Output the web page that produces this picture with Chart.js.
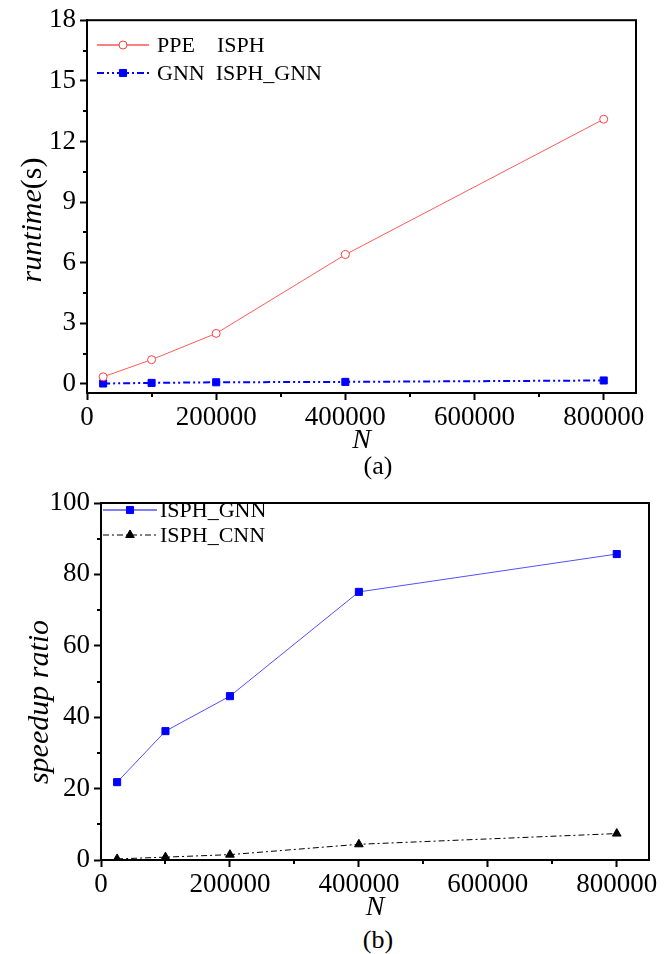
<!DOCTYPE html>
<html>
<head>
<meta charset="utf-8">
<script src="https://cdn.jsdelivr.net/npm/chart.js@4.4.0/dist/chart.umd.min.js"></script>
<style>
body { margin: 0; background: #fff; }
#page { position: relative; width: 666px; height: 954px; font-family: 'Liberation Serif', 'Times New Roman', serif; }
.box { position: absolute; left: 0; width: 666px; }
.cap { position: absolute; width: 100px; text-align: center; font-size: 26px; line-height: 30px; color: #000; }
</style>
</head>
<body>
<div id="page">
  <div class="box" style="top:0;height:457px"><canvas id="runtimeChart"></canvas></div>
  <div class="cap" style="left:328px;top:451px">(a)</div>
  <div class="box" style="top:480px;height:444px"><canvas id="speedupChart"></canvas></div>
  <div class="cap" style="left:328px;top:925px">(b)</div>
</div>
<script>
// particle counts
const N = [25000, 100000, 200000, 400000, 800000];

// (a) runtime in seconds
const runtimePPE = [0.35, 1.2, 2.5, 6.4, 13.1];
const runtimeGNN = [0.02, 0.05, 0.08, 0.1, 0.17];

// (b) speedup ratio
const speedupGNN = [21.8, 36.1, 45.9, 75.1, 85.7];
const speedupCNN = [0.3, 0.8, 1.5, 4.4, 7.4];

const xTicks = [0, 200000, 400000, 600000, 800000];
const xMinor = [100000, 300000, 500000, 700000];
const runtimeTicks = [0, 3, 6, 9, 12, 15, 18];
const runtimeMinor = [1.5, 4.5, 7.5, 10.5, 13.5, 16.5];
const speedupTicks = [0, 20, 40, 60, 80, 100];
const speedupMinor = [10, 30, 50, 70, 90];

Chart.defaults.font.family = "'Liberation Serif', 'Times New Roman', serif";
Chart.defaults.color = '#000';

const toXY = (xs, ys) => xs.map((x, i) => ({ x: x, y: ys[i] }));

// frame, minor ticks, y title with mixed style, legend with line samples
const figureDeco = {
  id: 'figureDeco',
  afterDraw(chart, args, opts) {
    const ctx = chart.ctx, a = chart.chartArea;
    const xs = chart.scales.x, ys = chart.scales.y;
    ctx.save();
    ctx.strokeStyle = '#000';
    ctx.lineWidth = 2;
    ctx.strokeRect(a.left, a.top, a.right - a.left, a.bottom - a.top);
    ctx.beginPath();
    opts.xMinor.forEach(v => {
      const px = Math.round(xs.getPixelForValue(v));
      ctx.moveTo(px, a.bottom); ctx.lineTo(px, a.bottom + 4);
    });
    opts.yMinor.forEach(v => {
      const py = Math.round(ys.getPixelForValue(v));
      ctx.moveTo(a.left, py); ctx.lineTo(a.left - 4, py);
    });
    ctx.stroke();

    // y axis title
    ctx.save();
    ctx.translate(opts.title.x, opts.title.y);
    ctx.rotate(-Math.PI / 2);
    ctx.fillStyle = '#000';
    ctx.textBaseline = 'middle';
    const fontOf = p => (p.italic ? 'italic ' : '') + '30px ' + Chart.defaults.font.family;
    let total = 0;
    opts.title.parts.forEach(p => { ctx.font = fontOf(p); total += ctx.measureText(p.text).width; });
    let tx = -total / 2;
    opts.title.parts.forEach(p => {
      ctx.font = fontOf(p);
      ctx.fillText(p.text, tx, 0);
      tx += ctx.measureText(p.text).width;
    });
    ctx.restore();

    // legend
    const lg = opts.legend;
    chart.data.datasets.forEach((ds, i) => {
      const ly = lg.y + i * lg.gap;
      ctx.strokeStyle = ds.legendColor || ds.borderColor;
      ctx.lineWidth = ds.borderWidth;
      ctx.setLineDash(ds.borderDash || []);
      ctx.beginPath();
      ctx.moveTo(lg.x0, ly); ctx.lineTo(lg.x1, ly);
      ctx.stroke();
      ctx.setLineDash([]);
      ctx.fillStyle = ds.pointBackgroundColor;
      ctx.strokeStyle = ds.pointBorderColor;
      ctx.lineWidth = 1;
      Chart.helpers.drawPoint(ctx, { pointStyle: ds.pointStyle, radius: ds.pointRadius, borderWidth: 1, rotation: 0 }, (lg.x0 + lg.x1) / 2, ly);
      ctx.fillStyle = '#000';
      ctx.font = lg.size + 'px ' + Chart.defaults.font.family;
      ctx.textBaseline = 'middle';
      ctx.fillText(ds.label, lg.tx, ly + 1);
    });
    ctx.restore();
  }
};

function axes(yMin, yMax, yTicks, yWidth) {
  const grid = { drawOnChartArea: false, drawTicks: true, tickLength: 7, tickColor: '#000', tickWidth: 2 };
  const border = { display: true, color: '#000', width: 2 };
  return {
    x: {
      type: 'linear', min: 0, max: 850000,
      grid: grid, border: border,
      afterBuildTicks: s => { s.ticks = xTicks.map(v => ({ value: v })); },
      afterFit: s => { s.height = 64; },
      ticks: { font: { size: 27 }, padding: 2, maxRotation: 0, callback: v => String(v) },
      title: { display: true, text: 'N', font: { size: 28, style: 'italic' }, padding: { top: 0, bottom: 0 } }
    },
    y: {
      type: 'linear', min: yMin, max: yMax,
      grid: grid, border: border,
      afterBuildTicks: s => { s.ticks = yTicks.map(v => ({ value: v })); },
      afterFit: s => { s.width = yWidth; },
      ticks: { font: { size: 27 }, padding: 4, callback: v => String(v) }
    }
  };
}

new Chart(document.getElementById('runtimeChart'), {
  type: 'line',
  data: {
    datasets: [{
      label: 'PPE    ISPH',
      data: toXY(N, runtimePPE),
      borderColor: '#ff5a5a', legendColor: '#ff0000', borderWidth: 1,
      pointStyle: 'circle', pointRadius: 4,
      pointBackgroundColor: '#fff', pointBorderColor: '#ff4040', pointBorderWidth: 1
    }, {
      label: 'GNN  ISPH_GNN',
      data: toXY(N, runtimeGNN),
      borderColor: '#0000ff', borderWidth: 2, borderDash: [7, 3, 2, 3, 2, 3],
      pointStyle: 'rect', pointRadius: 5,
      pointBackgroundColor: '#0000ff', pointBorderColor: '#0000ff', pointBorderWidth: 1
    }]
  },
  options: {
    responsive: true, maintainAspectRatio: false, animation: false,
    layout: { padding: { left: 0, top: 20, right: 30, bottom: 0 } },
    plugins: {
      legend: { display: false }, tooltip: { enabled: false },
      figureDeco: {
        xMinor: xMinor, yMinor: runtimeMinor,
        title: { x: 33, y: 220, parts: [{ text: 'runtime', italic: true }, { text: '(s)', italic: false }] },
        legend: { x0: 97, x1: 149, y: 45, gap: 28, tx: 157, size: 22 }
      }
    },
    scales: axes(-0.45, 18, runtimeTicks, 87)
  },
  plugins: [figureDeco]
});

new Chart(document.getElementById('speedupChart'), {
  type: 'line',
  data: {
    datasets: [{
      label: 'ISPH_GNN',
      data: toXY(N, speedupGNN),
      borderColor: '#5050ff', legendColor: '#0000ff', borderWidth: 1,
      pointStyle: 'rect', pointRadius: 5,
      pointBackgroundColor: '#0000ff', pointBorderColor: '#0000ff', pointBorderWidth: 1
    }, {
      label: 'ISPH_CNN',
      data: toXY(N, speedupCNN),
      borderColor: '#000', borderWidth: 1, borderDash: [6, 3, 2, 3],
      pointStyle: 'triangle', pointRadius: 5,
      pointBackgroundColor: '#000', pointBorderColor: '#000', pointBorderWidth: 1
    }]
  },
  options: {
    responsive: true, maintainAspectRatio: false, animation: false,
    layout: { padding: { left: 0, top: 23, right: 17, bottom: 0 } },
    plugins: {
      legend: { display: false }, tooltip: { enabled: false },
      figureDeco: {
        xMinor: xMinor, yMinor: speedupMinor,
        title: { x: 40, y: 222, parts: [{ text: 'speedup ratio', italic: true }] },
        legend: { x0: 103, x1: 157, y: 30, gap: 25, tx: 160, size: 22 }
      }
    },
    scales: axes(0, 100, speedupTicks, 101)
  },
  plugins: [figureDeco]
});
</script>
</body>
</html>
